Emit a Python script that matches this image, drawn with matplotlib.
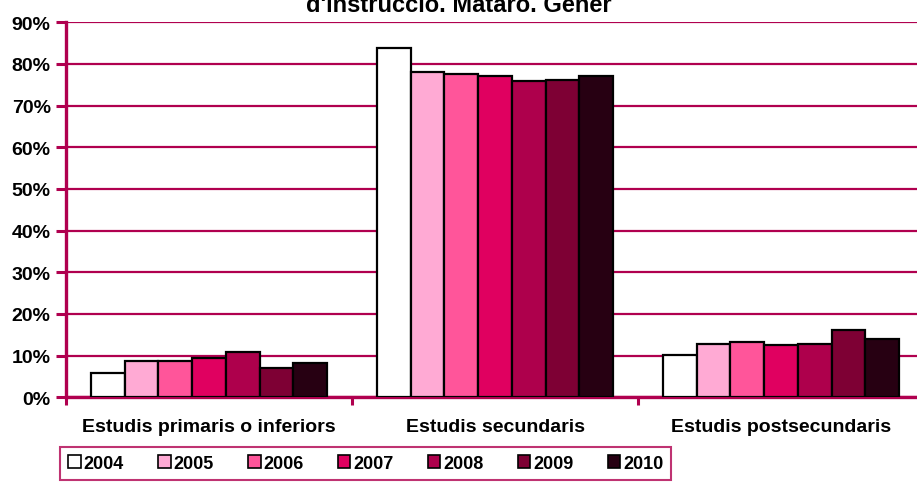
import numpy as np
import matplotlib.pyplot as plt
from matplotlib.patches import Patch

plt.rcParams['font.family'] = ['Liberation Sans', 'DejaVu Sans']

categories = ['Estudis primaris o inferiors', 'Estudis secundaris', 'Estudis postsecundaris']
years = ['2004', '2005', '2006', '2007', '2008', '2009', '2010']
values = {
    '2004': [5.9, 83.8, 10.2],
    '2005': [8.8, 78.0, 12.7],
    '2006': [8.6, 77.7, 13.2],
    '2007': [9.5, 77.2, 12.6],
    '2008': [10.8, 75.9, 12.8],
    '2009': [7.1, 76.2, 16.1],
    '2010': [8.3, 77.2, 14.0],
}
colors = ['#FFFFFF', '#FFAAD4', '#FF559A', '#E00060', '#AE004C', '#7E0034', '#270012']
accent = '#B0004F'

W, H = 917, 485
fig = plt.figure(figsize=(W / 100, H / 100), dpi=100)
ax = fig.add_axes([66 / W, (H - 398.3) / H, (924 - 66) / W, 375 / H])

w = 0.118
x = np.arange(len(categories)) + 0.5
for j, yr in enumerate(years):
    ax.bar(x + (j - 3) * w, values[yr], width=w, color=colors[j],
           edgecolor='black', linewidth=1.6, zorder=3)

ax.set_xlim(0, 3)
ax.set_ylim(0, 90)
ax.set_yticks(np.arange(0, 91, 10))
ax.set_yticklabels([f'{v}%' for v in range(0, 91, 10)], fontsize=14, fontweight='bold')
ax.yaxis.grid(True, color=accent, linewidth=1.6, zorder=0)
ax.set_xticks([0, 1, 2, 3])
ax.set_xticklabels([])
ax.tick_params(axis='y', direction='out', length=7, width=2.2, color=accent, pad=4)
ax.tick_params(axis='x', direction='out', length=6, width=2.2, color=accent)
for c, lab in zip(x, categories):
    ax.text(c, -7.1, lab, ha='center', va='center', fontsize=14, fontweight='bold')

for s in ['top', 'right']:
    ax.spines[s].set_visible(False)
for s in ['left', 'bottom']:
    ax.spines[s].set_color(accent)
    ax.spines[s].set_linewidth(2.4)

fig.text(0.5, 1 - 12 / H, "d'instrucció. Mataró. Gener", ha='center', va='baseline',
         fontsize=17, fontweight='bold')

handles = [Patch(facecolor=c, edgecolor='black', linewidth=1.2) for c in colors]
leg = fig.legend(handles, years, loc='upper left', bbox_to_anchor=(60 / W, 1 - 448 / H),
                 ncol=7, frameon=True, fancybox=False,
                 prop={'weight': 'bold', 'size': 13}, handlelength=0.7, handleheight=0.7,
                 handletextpad=0.15, columnspacing=1.9, borderpad=0.45, borderaxespad=0)
leg.get_frame().set_edgecolor(accent)
leg.get_frame().set_linewidth(1.5)

fig.savefig('out.png', dpi=100)
